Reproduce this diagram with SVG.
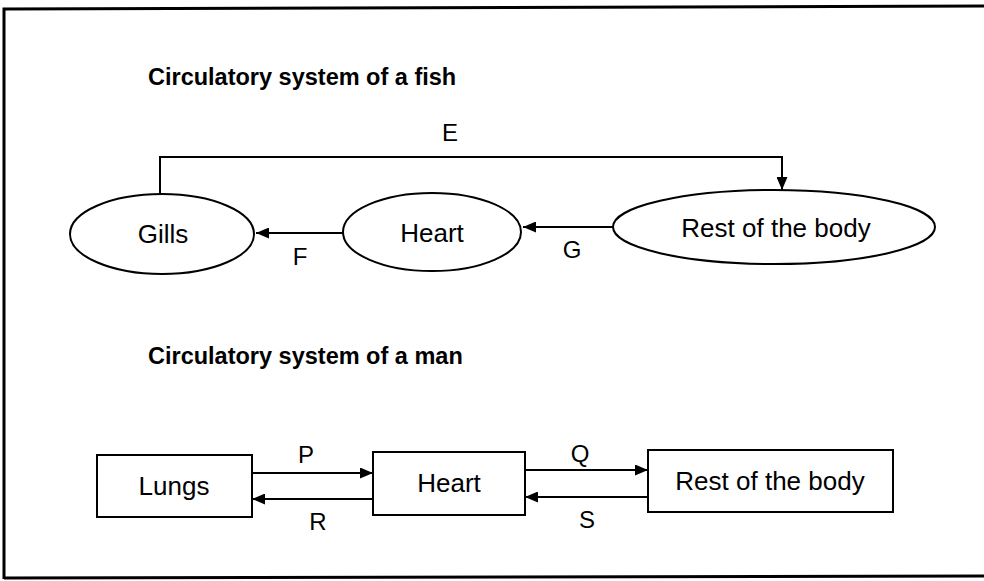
<svg xmlns="http://www.w3.org/2000/svg" width="984" height="581" viewBox="0 0 984 581">
<style>
.t{font-family:"Liberation Sans",Arial,sans-serif;font-size:26px;fill:#000}
.l{font-family:"Liberation Sans",Arial,sans-serif;font-size:24px;fill:#000}
.h{font-family:"Liberation Sans",Arial,sans-serif;font-size:23.5px;font-weight:bold;fill:#000}
.n{fill:#fff;stroke:#000;stroke-width:2}
.c{fill:none;stroke:#000;stroke-width:2}
</style>
<defs>
<marker id="a" viewBox="0 0 13 11" refX="13" refY="5.5" markerWidth="13" markerHeight="11" markerUnits="userSpaceOnUse" orient="auto">
<path d="M0,0 L13,5.5 L0,11 z" fill="#000"/>
</marker>
</defs>
<g id="frame">
<path d="M4,579 L4,9 L984,6" fill="none" stroke="#000" stroke-width="3"/>
<path d="M4,578 L984,576" fill="none" stroke="#000" stroke-width="3"/>
</g>
<text class="h" x="148" y="85">Circulatory system of a fish</text>
<text class="h" x="148" y="364">Circulatory system of a man</text>
<g id="connectors">
<path class="c" d="M160,194 L160,157 L782,157 L782,190" marker-end="url(#a)"/>
<path class="c" d="M343,233 L256,233" marker-end="url(#a)"/>
<path class="c" d="M613,227 L523,227" marker-end="url(#a)"/>
<path class="c" d="M252,473 L373,473" marker-end="url(#a)"/>
<path class="c" d="M373,499 L252,499" marker-end="url(#a)"/>
<path class="c" d="M525,470 L648,470" marker-end="url(#a)"/>
<path class="c" d="M648,497 L525,497" marker-end="url(#a)"/>
<text class="l" x="450" y="141" text-anchor="middle">E</text>
<text class="l" x="300" y="265" text-anchor="middle">F</text>
<text class="l" x="572" y="258" text-anchor="middle">G</text>
<text class="l" x="306" y="463" text-anchor="middle">P</text>
<text class="l" x="318" y="530" text-anchor="middle">R</text>
<text class="l" x="580" y="462" text-anchor="middle">Q</text>
<text class="l" x="587" y="528" text-anchor="middle">S</text>
</g>
<g id="gills"><ellipse class="n" cx="162" cy="234" rx="92" ry="40"/><text class="t" x="163" y="243" text-anchor="middle">Gills</text></g>
<g id="heart-fish"><ellipse class="n" cx="432" cy="232" rx="89" ry="39"/><text class="t" x="432" y="242" text-anchor="middle">Heart</text></g>
<g id="body-fish"><ellipse class="n" cx="774" cy="227" rx="161" ry="37"/><text class="t" x="776" y="237" text-anchor="middle">Rest of the body</text></g>
<g id="lungs"><rect class="n" x="97" y="455" width="155" height="62"/><text class="t" x="174" y="495" text-anchor="middle">Lungs</text></g>
<g id="heart-man"><rect class="n" x="373" y="452" width="152" height="63"/><text class="t" x="449" y="492" text-anchor="middle">Heart</text></g>
<g id="body-man"><rect class="n" x="648" y="450" width="245" height="62"/><text class="t" x="770" y="490" text-anchor="middle">Rest of the body</text></g>
</svg>
